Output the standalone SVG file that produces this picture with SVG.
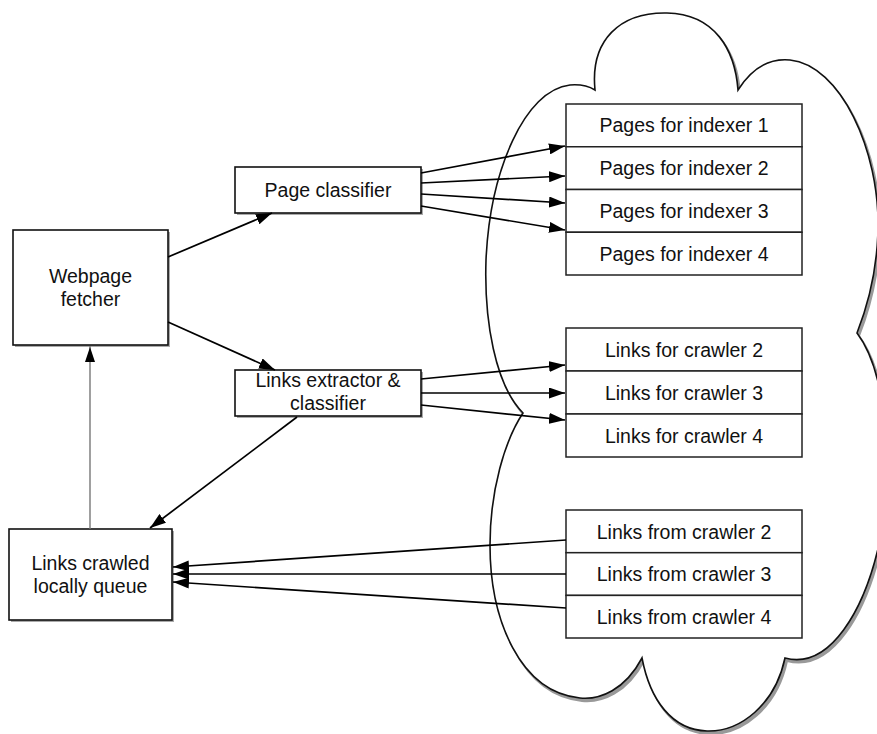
<svg xmlns="http://www.w3.org/2000/svg" width="877" height="734" viewBox="0 0 877 734">
<style>
.box{fill:#fff;stroke:#111;stroke-width:1.6}
.sh{fill:#aaa}
.cell{fill:#fff;stroke:#222;stroke-width:1.5}
.t{font-family:"Liberation Sans",Arial,sans-serif;font-size:19.5px;fill:#111;text-anchor:middle}
.c{fill:none;stroke:#000;stroke-width:1.7}
.g{fill:none;stroke:#777;stroke-width:1.4}
</style>
<defs>
<marker id="ah" markerUnits="userSpaceOnUse" markerWidth="17" markerHeight="11" refX="16" refY="5.5" orient="auto">
<path d="M0,0 L16,5.5 L0,11 z" fill="#000"/>
</marker>
<marker id="ahg" markerUnits="userSpaceOnUse" markerWidth="17" markerHeight="11" refX="16" refY="5.5" orient="auto">
<path d="M0,0.5 L15,5.5 L0,10.5 z" fill="#000"/>
</marker>
</defs>
<rect width="877" height="734" fill="#fff"/>
<g id="cloud">
<path transform="translate(2,3)" fill="#999" stroke="#999" stroke-width="2" d="M595,90 C590,40 620,12 667,13 C715,14 735,50 738,90 C752,68 770,58 790,60 C840,65 880,150 878,230 C877,270 868,305 857,333 C885,370 895,460 880,540 C865,610 830,670 785,658 C775,705 740,732 707,731 C672,730 650,700 642,658 C625,690 600,700 580,698 C520,692 490,620 490,545 C490,490 505,440 523,413 C495,385 484,320 486,260 C490,170 525,90 570,85 C582,84 590,87 595,90 Z"/>
<path fill="#fff" stroke="#111" stroke-width="1.6" d="M595,90 C590,40 620,12 667,13 C715,14 735,50 738,90 C752,68 770,58 790,60 C840,65 880,150 878,230 C877,270 868,305 857,333 C885,370 895,460 880,540 C865,610 830,670 785,658 C775,705 740,732 707,731 C672,730 650,700 642,658 C625,690 600,700 580,698 C520,692 490,620 490,545 C490,490 505,440 523,413 C495,385 484,320 486,260 C490,170 525,90 570,85 C582,84 590,87 595,90 Z"/>
</g>
<g id="fetcher">
<rect class="sh" x="15" y="232" width="155" height="115"/>
<rect class="box" x="13" y="230" width="155" height="115"/>
<text class="t" x="90.5" y="283">Webpage</text>
<text class="t" x="90.5" y="306">fetcher</text>
</g>
<g id="page-classifier">
<rect class="sh" x="237" y="169" width="186" height="46"/>
<rect class="box" x="235" y="167" width="186" height="46"/>
<text class="t" x="328" y="197">Page classifier</text>
</g>
<g id="links-extractor">
<rect class="sh" x="237" y="372" width="186" height="46"/>
<rect class="box" x="235" y="370" width="186" height="46"/>
<text class="t" x="328" y="387">Links extractor &amp;</text>
<text class="t" x="328" y="410">classifier</text>
</g>
<g id="queue">
<rect class="sh" x="11" y="531" width="163" height="91"/>
<rect class="box" x="9" y="529" width="163" height="91"/>
<text class="t" x="90.5" y="570">Links crawled</text>
<text class="t" x="90.5" y="593">locally queue</text>
</g>
<g id="pages-stack">
<rect class="cell" x="566" y="104" width="236" height="42.75"/>
<rect class="cell" x="566" y="146.75" width="236" height="42.75"/>
<rect class="cell" x="566" y="189.5" width="236" height="42.75"/>
<rect class="cell" x="566" y="232.25" width="236" height="42.75"/>
<text class="t" x="684" y="132">Pages for indexer 1</text>
<text class="t" x="684" y="175">Pages for indexer 2</text>
<text class="t" x="684" y="218">Pages for indexer 3</text>
<text class="t" x="684" y="261">Pages for indexer 4</text>
</g>
<g id="links-for-stack">
<rect class="cell" x="566" y="328" width="236" height="43"/>
<rect class="cell" x="566" y="371" width="236" height="43"/>
<rect class="cell" x="566" y="414" width="236" height="43"/>
<text class="t" x="684" y="357">Links for crawler 2</text>
<text class="t" x="684" y="400">Links for crawler 3</text>
<text class="t" x="684" y="443">Links for crawler 4</text>
</g>
<g id="links-from-stack">
<rect class="cell" x="566" y="510" width="236" height="42.7"/>
<rect class="cell" x="566" y="552.7" width="236" height="42.7"/>
<rect class="cell" x="566" y="595.4" width="236" height="42.6"/>
<text class="t" x="684" y="539">Links from crawler 2</text>
<text class="t" x="684" y="581">Links from crawler 3</text>
<text class="t" x="684" y="624">Links from crawler 4</text>
</g>
<g id="connectors">
<line class="c" x1="168" y1="257" x2="272" y2="213" marker-end="url(#ah)"/>
<line class="c" x1="168" y1="322" x2="275" y2="370" marker-end="url(#ah)"/>
<line class="c" x1="297" y1="417" x2="150" y2="528" marker-end="url(#ah)"/>
<line class="g" x1="90" y1="529" x2="90" y2="346" marker-end="url(#ahg)"/>
<line class="c" x1="421" y1="173" x2="565" y2="146" marker-end="url(#ah)"/>
<line class="c" x1="421" y1="183" x2="565" y2="176" marker-end="url(#ah)"/>
<line class="c" x1="421" y1="194" x2="565" y2="203" marker-end="url(#ah)"/>
<line class="c" x1="421" y1="206" x2="565" y2="230" marker-end="url(#ah)"/>
<line class="c" x1="421" y1="379" x2="565" y2="365" marker-end="url(#ah)"/>
<line class="c" x1="421" y1="393" x2="565" y2="393" marker-end="url(#ah)"/>
<line class="c" x1="421" y1="405" x2="565" y2="420" marker-end="url(#ah)"/>
<line class="c" x1="566" y1="540" x2="173" y2="567" marker-end="url(#ah)"/>
<line class="c" x1="566" y1="574" x2="173" y2="574" marker-end="url(#ah)"/>
<line class="c" x1="566" y1="608" x2="173" y2="582" marker-end="url(#ah)"/>
</g>
</svg>
